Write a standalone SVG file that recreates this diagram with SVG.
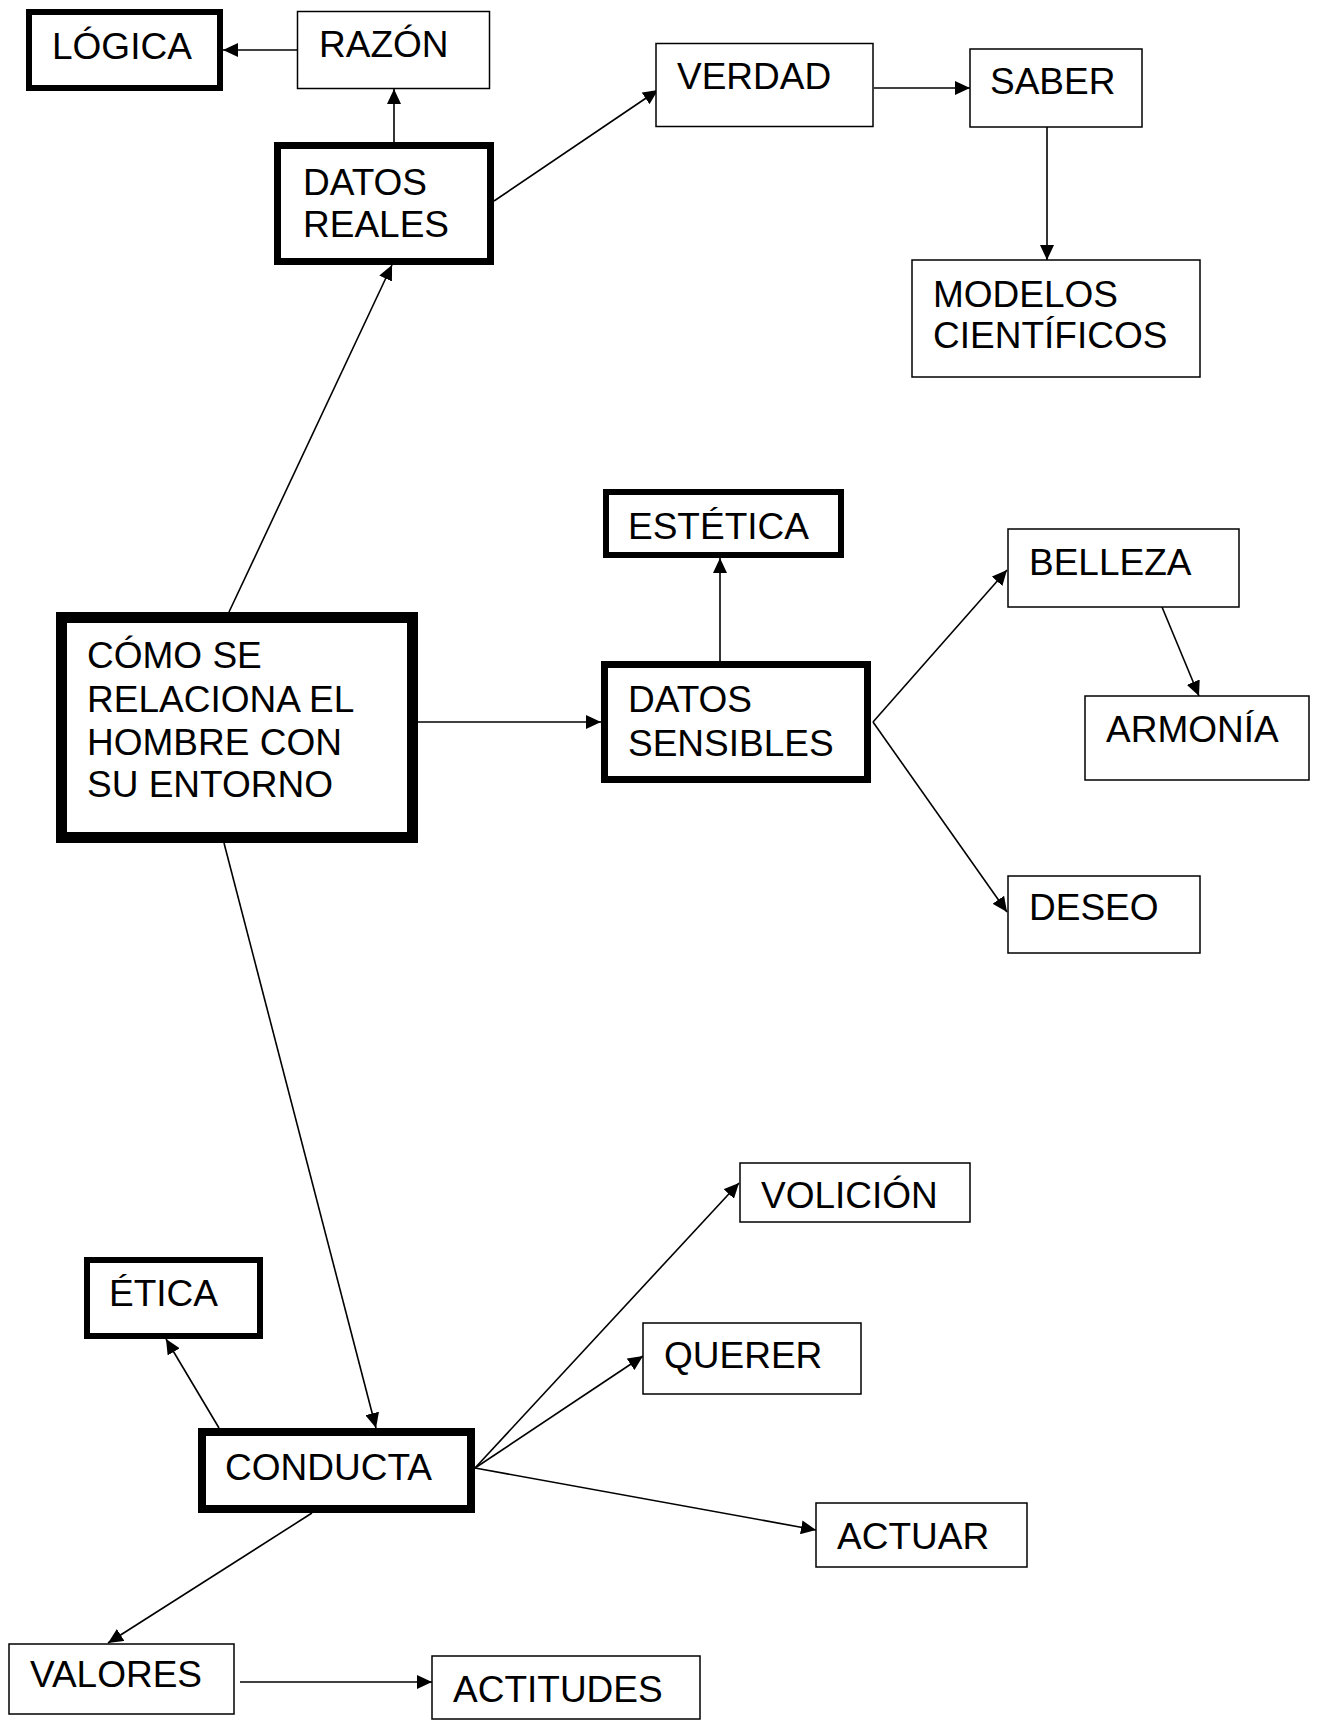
<svg xmlns="http://www.w3.org/2000/svg" width="1319" height="1720" viewBox="0 0 1319 1720">
<style>
.box{fill:#fff;stroke:#000;stroke-width:1.5}
.t6{stroke-width:6}
.t7{stroke-width:7}
.t8{stroke-width:8}
.t11{stroke-width:11}
text{font-family:"Liberation Sans",Arial,sans-serif;font-size:37px;fill:#000}
.c path{fill:none;stroke:#000;stroke-width:1.6;marker-end:url(#ah)}
</style>
<defs>
<marker id="ah" markerUnits="userSpaceOnUse" markerWidth="16" markerHeight="14" refX="15" refY="7" orient="auto">
<path d="M0,0 L15,7 L0,14 z" fill="#000"/>
</marker>
</defs>
<rect width="1319" height="1720" fill="#fff"/>
<g class="c" id="connectors">
<path d="M297,50 L223,50"/>
<path d="M394,142 L394,89"/>
<path d="M494,201 L658,90"/>
<path d="M874,88 L970,88"/>
<path d="M1047,127 L1047,260"/>
<path d="M229,612 L392,265"/>
<path d="M418,722 L601,722"/>
<path d="M720,661 L720,558"/>
<path d="M873,722 L1007,570"/>
<path d="M873,722 L1007,912"/>
<path d="M1162,607 L1199,696"/>
<path d="M224,843 L376,1428"/>
<path d="M219,1428 L166,1339"/>
<path d="M475,1468 L739,1183"/>
<path d="M475,1468 L643,1356"/>
<path d="M475,1468 L816,1530"/>
<path d="M312,1513 L108,1643"/>
<path d="M240,1682 L432,1682"/>
</g>
<g id="logica"><rect class="box t6" x="29" y="12" width="191" height="76"/><text x="52" y="59">LÓGICA</text></g>
<g id="razon"><rect class="box" x="297.5" y="11.5" width="192" height="77"/><text x="319" y="57">RAZÓN</text></g>
<g id="datos-reales"><rect class="box t7" x="277.5" y="145.5" width="213" height="116"/><text x="303" y="195">DATOS</text><text x="303" y="237">REALES</text></g>
<g id="verdad"><rect class="box" x="656" y="43.5" width="217" height="83"/><text x="677" y="89">VERDAD</text></g>
<g id="saber"><rect class="box" x="970" y="49" width="172" height="78"/><text x="990" y="94">SABER</text></g>
<g id="modelos"><rect class="box" x="912" y="260" width="288" height="117"/><text x="933" y="307">MODELOS</text><text x="933" y="348">CIENTÍFICOS</text></g>
<g id="estetica"><rect class="box t6" x="606" y="492" width="235" height="63"/><text x="628" y="539">ESTÉTICA</text></g>
<g id="datos-sensibles"><rect class="box t7" x="604.5" y="664.5" width="263" height="115"/><text x="628" y="712">DATOS</text><text x="628" y="756">SENSIBLES</text></g>
<g id="como"><rect class="box t11" x="61.5" y="617.5" width="351" height="220"/><text x="87" y="668">CÓMO SE</text><text x="87" y="712">RELACIONA EL</text><text x="87" y="755">HOMBRE CON</text><text x="87" y="797">SU ENTORNO</text></g>
<g id="belleza"><rect class="box" x="1008" y="529" width="231" height="78"/><text x="1029" y="575">BELLEZA</text></g>
<g id="armonia"><rect class="box" x="1085" y="696" width="224" height="84"/><text x="1106" y="742">ARMONÍA</text></g>
<g id="deseo"><rect class="box" x="1008" y="876" width="192" height="77"/><text x="1029" y="920">DESEO</text></g>
<g id="volicion"><rect class="box" x="740" y="1163" width="230" height="59"/><text x="761" y="1208">VOLICIÓN</text></g>
<g id="etica"><rect class="box t6" x="87" y="1260" width="173" height="76"/><text x="109" y="1306">ÉTICA</text></g>
<g id="querer"><rect class="box" x="643" y="1323" width="218" height="71"/><text x="664" y="1368">QUERER</text></g>
<g id="conducta"><rect class="box t8" x="202" y="1432" width="269" height="77"/><text x="225" y="1480">CONDUCTA</text></g>
<g id="actuar"><rect class="box" x="816" y="1503" width="211" height="64"/><text x="837" y="1549">ACTUAR</text></g>
<g id="valores"><rect class="box" x="9" y="1644" width="225" height="70"/><text x="30" y="1687">VALORES</text></g>
<g id="actitudes"><rect class="box" x="432" y="1656" width="268" height="63"/><text x="453" y="1702">ACTITUDES</text></g>
</svg>
